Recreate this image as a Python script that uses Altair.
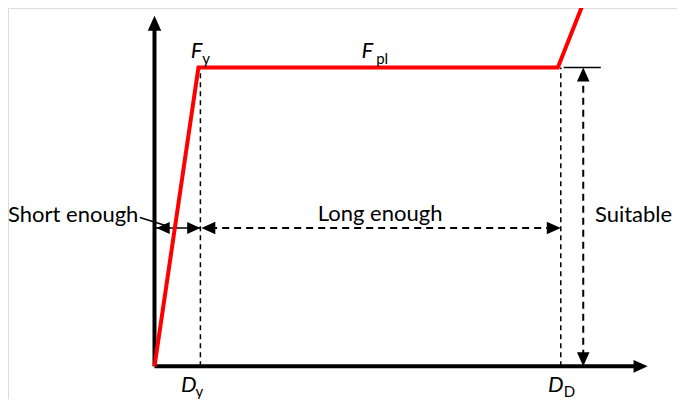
import altair as alt
import pandas as pd

# Diagram units: displacement to the right, force upward, origin at axes corner
D_Y = 47        # yield displacement
D_D = 416       # design displacement
F_Y = 311       # yield / plastic force level

# Capacity curve (red)
curve_disp = [0, 45, 413, 441]
curve_force = [0, 311, 311, 383]

# Axes extents
x_axis_end = 505
y_axis_end = 365

# Dimension arrows levels
dim_level = 144          # "Short enough" / "Long enough" arrow height
suit_x = 439             # "Suitable" arrow position

X_DOM = [-150, 535]
Y_DOM = [-34, 373]
xs = alt.Scale(domain=X_DOM, nice=False, zero=False)
ys = alt.Scale(domain=Y_DOM, nice=False, zero=False)

def seg(x, y, x2, y2):
    return pd.DataFrame({"x": x, "y": y, "x2": x2, "y2": y2})

def rule_layer(df, **kw):
    return alt.Chart(df).mark_rule(**kw).encode(
        x=alt.X("x:Q", scale=xs, axis=None),
        y=alt.Y("y:Q", scale=ys, axis=None),
        x2="x2:Q", y2="y2:Q")

axes = rule_layer(seg([0, 0], [0, 0], [x_axis_end - 10, 0], [0, y_axis_end - 10]),
                  color="black", strokeWidth=4)

dashed_thin = rule_layer(seg([D_Y, D_D], [0, 0], [D_Y, D_D], [F_Y, F_Y]),
                         color="black", strokeWidth=1.5, strokeDash=[5, 4])

dashed_dim = rule_layer(seg([D_Y + 10, suit_x], [dim_level, 10], [D_D - 10, suit_x], [dim_level, F_Y - 10]),
                        color="black", strokeWidth=2, strokeDash=[7, 5])

solid_thin = rule_layer(seg([0, D_D + 3, -15], [dim_level, F_Y, 155], [D_Y, 457, 13], [dim_level, F_Y, 146]),
                        color="black", strokeWidth=1.6)

curve = alt.Chart(pd.DataFrame({"d": curve_disp, "f": curve_force, "o": range(len(curve_disp))})).mark_line(
    color="#ff0000", strokeWidth=4, clip=True, strokeJoin="miter").encode(
    x=alt.X("d:Q", scale=xs, axis=None), y=alt.Y("f:Q", scale=ys, axis=None), order="o:Q")

# arrowheads: tip position and direction (degrees clockwise from up)
head_x = [0, x_axis_end, suit_x, suit_x, D_Y + 1, D_D, 2, D_Y]
head_y = [y_axis_end, 0, F_Y, 0, dim_level, dim_level, dim_level, dim_level]
head_angle = [0, 90, 0, 180, 270, 90, 270, 90]
head_size = [900, 800, 780, 780, 780, 780, 700, 700]

ARROW = "M0,0L-0.45,1L0.45,1Z"
heads = alt.Chart(pd.DataFrame({"x": head_x, "y": head_y, "a": head_angle, "s": head_size})).mark_point(
    shape=ARROW, filled=True, color="black", opacity=1, strokeWidth=0).encode(
    x=alt.X("x:Q", scale=xs, axis=None), y=alt.Y("y:Q", scale=ys, axis=None),
    angle=alt.Angle("a:Q", scale=None), size=alt.Size("s:Q", scale=None))

# labels
main_txt = ["F", "F", "D", "D"]
main_x = [43, 218, 35, 411]
main_y = [328, 328, -19, -19]
sub_txt = ["y", "pl", "y", "D"]
sub_x = [49, 227, 42, 419]
sub_y = [320, 320, -27, -27]
word_txt = ["Short enough", "Long enough", "Suitable"]
word_x = [-150, 231, 451]
word_y = [158, 159, 158]
word_align = ["left", "center", "left"]

FONT = "Lato"
main_lbl = alt.Chart(pd.DataFrame({"x": main_x, "y": main_y, "t": main_txt})).mark_text(
    font=FONT, fontSize=22, fontStyle="italic", color="black", align="center", baseline="middle").encode(
    x=alt.X("x:Q", scale=xs, axis=None), y=alt.Y("y:Q", scale=ys, axis=None), text="t:N")
sub_lbl = alt.Chart(pd.DataFrame({"x": sub_x, "y": sub_y, "t": sub_txt})).mark_text(
    font=FONT, fontSize=15, color="black", align="left", baseline="middle").encode(
    x=alt.X("x:Q", scale=xs, axis=None), y=alt.Y("y:Q", scale=ys, axis=None), text="t:N")

word_layers = []
for t, x, y, a in zip(word_txt, word_x, word_y, word_align):
    word_layers.append(alt.Chart(pd.DataFrame({"x": [x], "y": [y], "t": [t]})).mark_text(
        font=FONT, fontSize=22, color="black", align=a, baseline="middle").encode(
        x=alt.X("x:Q", scale=xs, axis=None), y=alt.Y("y:Q", scale=ys, axis=None), text="t:N"))

chart = alt.layer(dashed_thin, dashed_dim, solid_thin, axes, curve, heads, main_lbl, sub_lbl, *word_layers).properties(
    width=669, height=391, padding=0, autosize=alt.AutoSizeParams(type="none")
).configure_view(strokeWidth=0).configure(background="white")

chart.save("out.html", embed_options={"renderer": "svg", "actions": False})
